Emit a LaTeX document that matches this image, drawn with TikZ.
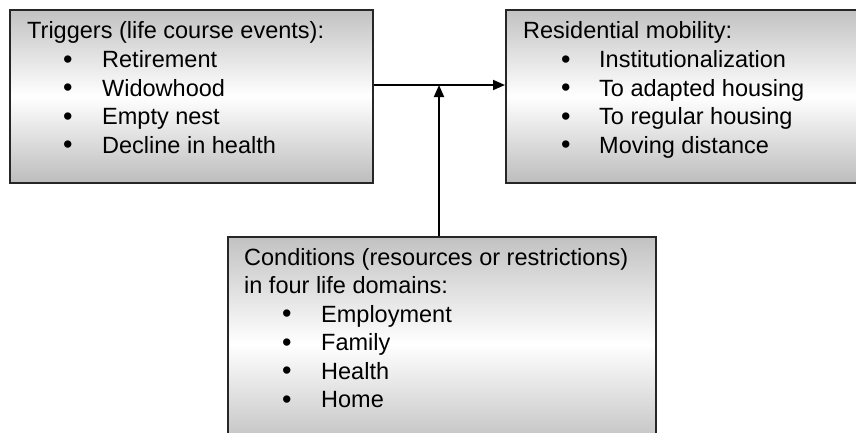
\documentclass[tikz,border=0pt]{standalone}
\usepackage{fontspec}
\setmainfont{Liberation Sans}
\usetikzlibrary{arrows.meta}
\begin{document}
\begin{tikzpicture}[x=1pt,y=-1pt,
  box/.style={draw=black!85,line width=1.6pt,top color=black!24,bottom color=black!26,middle color=white},
  txt/.style={anchor=base west,inner sep=0pt,font=\fontsize{23.5}{27}\selectfont},
  bul/.style={anchor=base west,inner sep=0pt,font=\fontsize{27}{27}\selectfont},
  conn/.style={line width=1.8pt,-{Triangle[length=12pt,width=10pt]}}]
\useasboundingbox (0,0) rectangle (856,432);
\fill[white] (0,0) rectangle (856,432);
% boxes
\node[box,minimum width=363pt,minimum height=173pt,anchor=north west,inner sep=0pt] (trig) at (9,9) {};
\node[box,minimum width=352pt,minimum height=173pt,anchor=north west,inner sep=0pt] (res) at (505,9) {};
\node[box,minimum width=428pt,minimum height=215pt,anchor=north west,inner sep=0pt] (cond) at (227,236) {};
% triggers text
\node[txt] (t0) at (27,38) {Triggers (life course events):};
\node[bul] (tb1) at (63,68) {•};
\node[bul] (tb2) at (63,96.5) {•};
\node[bul] (tb3) at (63,125) {•};
\node[bul] (tb4) at (63,153.5) {•};
\node[txt] (t1) at (102,67.5) {Retirement};
\node[txt] (t2) at (102,96) {Widowhood};
\node[txt] (t3) at (102,124.5) {Empty nest};
\node[txt] (t4) at (102,153) {Decline in health};
% residential text
\node[txt] (r0) at (523,38) {Residential mobility:};
\node[bul] (rb1) at (561,68) {•};
\node[bul] (rb2) at (561,96.5) {•};
\node[bul] (rb3) at (561,125) {•};
\node[bul] (rb4) at (561,153.5) {•};
\node[txt] (r1) at (599,67.5) {Institutionalization};
\node[txt] (r2) at (599,96) {To adapted housing};
\node[txt] (r3) at (599,124.5) {To regular housing};
\node[txt] (r4) at (599,153) {Moving distance};
% conditions text
\node[txt] (c0) at (244,265) {Conditions (resources or restrictions)};
\node[txt] (c0b) at (244,293.5) {in four life domains:};
\node[bul] (cb1) at (282,322.5) {•};
\node[bul] (cb2) at (282,351) {•};
\node[bul] (cb3) at (282,379.5) {•};
\node[bul] (cb4) at (282,408) {•};
\node[txt] (c1) at (321,322) {Employment};
\node[txt] (c2) at (321,350.5) {Family};
\node[txt] (c3) at (321,379) {Health};
\node[txt] (c4) at (321,407.5) {Home};
% connectors
\coordinate (j) at (439,85);
\draw[conn] (trig.east |- j) -- (res.west |- j);
\draw[conn] (cond.north -| j) -- (j);
\end{tikzpicture}
\end{document}
